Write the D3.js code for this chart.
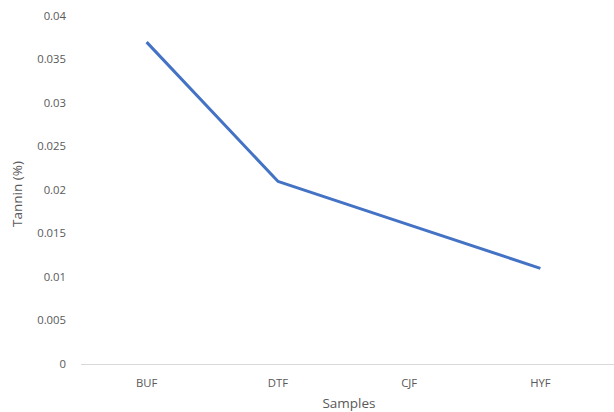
<!DOCTYPE html>
<html><head><meta charset="utf-8">
<script src="https://cdn.jsdelivr.net/npm/d3@7"></script>
<style>body{margin:0;background:#fff}text{font-family:"Open Sans",sans-serif}</style>
</head><body>
<svg id="c" width="614" height="412"></svg>
<script>
const categories = ["BUF","DTF","CJF","HYF"];
const tannin = [0.037, 0.021, 0.016, 0.011];
const yTicks = [0,0.005,0.01,0.015,0.02,0.025,0.03,0.035,0.04];

const svg = d3.select("#c");
const x = d3.scaleBand().domain(categories).range([81,606]);
const y = d3.scaleLinear().domain([0,0.04]).range([364,16]);

// y tick labels
svg.append("g").selectAll("text").data(yTicks).join("text")
  .attr("x",66).attr("y",d=>y(d)).attr("dy","0.35em")
  .attr("text-anchor","end").attr("font-size",11.3).attr("fill","#595959")
  .text(d=>String(d));

// x axis line
svg.append("line").attr("x1",81).attr("x2",614).attr("y1",y(0)+0.5).attr("y2",y(0)+0.5)
  .attr("stroke","#d9d9d9").attr("stroke-width",1);

// x labels
svg.append("g").selectAll("text").data(categories).join("text")
  .attr("x",d=>x(d)+x.bandwidth()/2).attr("y",387)
  .attr("text-anchor","middle").attr("font-size",11.3).attr("fill","#595959")
  .text(d=>d);

// line
const line = d3.line().x((d,i)=>x(categories[i])+x.bandwidth()/2).y(d=>y(d));
svg.append("path").datum(tannin).attr("d",line).attr("fill","none")
  .attr("stroke","#4472C4").attr("stroke-width",3).attr("stroke-linejoin","round");

// axis titles
svg.append("text").attr("x",349).attr("y",408).attr("text-anchor","middle")
  .attr("font-size",13.5).attr("fill","#595959").text("Samples");
svg.append("text").attr("transform","translate(22,194) rotate(-90)").attr("text-anchor","middle")
  .attr("font-size",13.5).attr("fill","#595959").text("Tannin (%)");
</script>
</body></html>
